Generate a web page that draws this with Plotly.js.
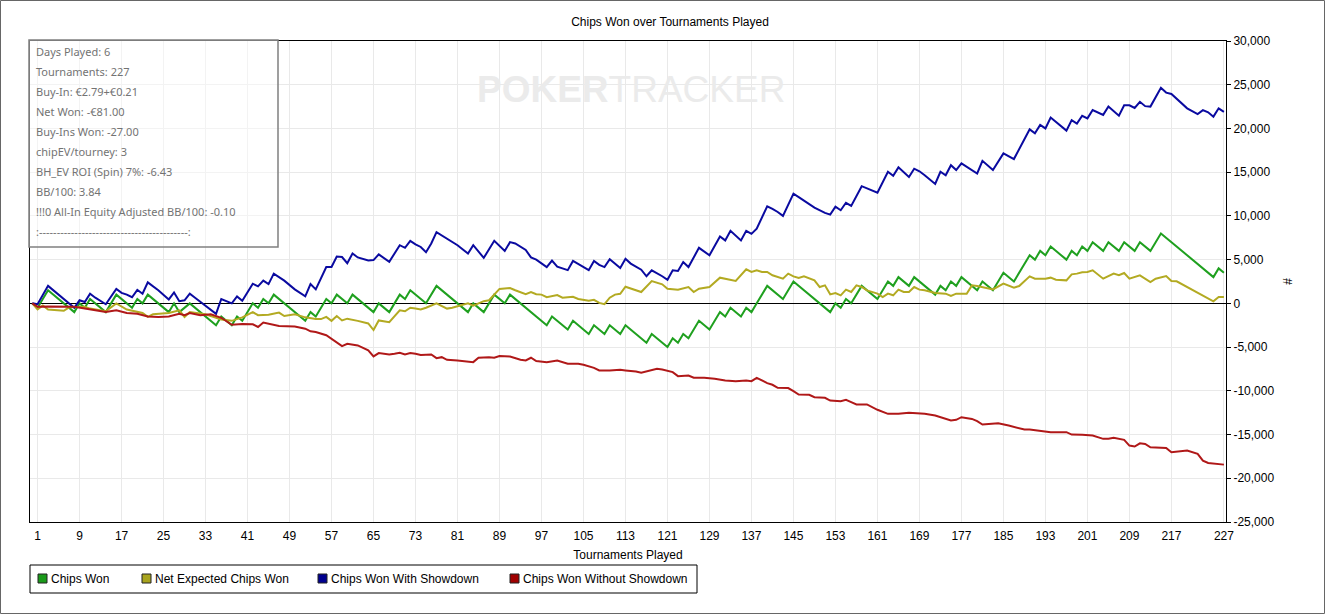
<!DOCTYPE html>
<html>
<head>
<meta charset="utf-8">
<script src="https://cdn.plot.ly/plotly-3.0.1.min.js"></script>
<style>
  html, body { margin: 0; padding: 0; background: #fff; }
  #chart { width: 1325px; height: 614px; }
</style>
</head>
<body>
<div id="chart"></div>
<script>
// Tick labels
var xTickVals = [1, 9, 17, 25, 33, 41, 49, 57, 65, 73, 81, 89, 97, 105, 113, 121, 129, 137, 145, 153, 161, 169, 177, 185, 193, 201, 209, 217, 227];
var yTickVals = [-25000, -20000, -15000, -10000, -5000, 0, 5000, 10000, 15000, 20000, 25000, 30000];
var yTickText = ['-25,000', '-20,000', '-15,000', '-10,000', '-5,000', '0', '5,000', '10,000', '15,000', '20,000', '25,000', '30,000'];

// Chips Won (tournament number / cumulative chips at each turn of the line)
var greenT = [0,1,3,8,9,10,11,14,16,19,20,21,22,26,27,28,30,35,36,38,39,40,42,43,44,45,46,52,53,54,56,57,58,60,61,65,66,68,70,71,
  72,75,77,83,84,86,88,90,91,98,99,102,103,106,107,109,110,112,113,117,118,121,122,123,124,125,127,129,131,132,
  133,135,136,137,138,140,143,145,152,153,154,155,156,158,161,163,164,165,167,168,170,172,173,174,175,176,177,180,181,183,
  185,187,190,191,192,193,194,197,198,199,200,201,202,204,205,207,208,210,211,213,215,225,226,227];
var greenY = [0,-500,1500,-1000,0,-500,500,-1000,1000,-500,500,0,1000,-1000,0,-1000,0,-2500,-1500,-2500,
  -1500,-2000,0,-500,500,0,1000,-2000,-1000,-1500,500,0,1000,0,1000,-1000,0,-1000,1000,500,
  1500,0,2000,-1000,0,-1000,1000,0,1000,-2500,-1500,-3000,-2000,-3500,-2500,-3500,-2500,-3500,-2500,-4500,
  -3500,-5000,-4000,-4500,-3500,-4000,-2000,-3000,-1000,-1500,-500,-1500,-500,-1000,0,2000,500,2500,-1000,0,
  -500,500,0,2000,500,2500,2000,3000,2000,3000,2000,1000,2000,1500,2500,2000,3000,1500,2500,1500,
  3500,2500,5500,5000,6000,5500,6500,5000,6000,5500,6500,6000,7000,6000,7000,6000,7000,6000,7000,6000,
  8000,3000,4000,3500];

// Net Expected Chips Won
var yellowT = [0,1,2,3,6,7,10,11,14,16,18,19,21,22,23,26,28,29,30,33,36,38,40,42,43,45,47,48,50,52,
  54,55,56,57,58,59,60,62,64,65,66,68,70,71,72,73,74,75,77,79,80,83,84,86,87,89,91,92,94,95,
  96,97,98,100,101,102,103,104,106,107,108,109,110,111,112,113,114,115,116,118,120,121,123,125,126,127,129,131,132,134,
  136,137,138,139,140,141,143,144,145,146,147,149,150,151,152,153,154,155,156,157,158,159,161,162,163,164,165,166,167,168,
  169,170,172,174,175,176,178,179,180,183,185,187,188,190,191,193,194,195,197,198,199,200,201,202,204,206,207,208,209,211,
  213,214,216,217,218,220,222,223,225,226,227];
var yellowY = [0,-700,-250,-700,-850,-450,-400,-600,-900,0,-700,-850,-1100,-1550,-1250,-1100,-800,-1550,-1000,-1250,
  -1850,-2000,-1600,-1000,-1350,-1300,-1050,-1450,-1250,-1600,-1800,-1800,-1550,-2000,-1450,-1950,-1750,-2000,-2300,-3050,
  -1950,-2150,-800,-900,-500,-600,-700,-500,0,-600,-500,0,-250,250,350,1650,1750,1500,1050,1300,
  1050,1000,700,950,650,700,750,500,300,400,50,-100,650,1000,1100,1900,1700,1450,1300,2550,
  2180,1680,1570,1870,1300,1680,1870,2940,2820,2560,3890,3590,3780,3590,3590,3210,2820,3400,3090,2900,
  3090,2630,1870,2060,1030,1180,920,1570,1300,2060,1870,1490,1110,720,1110,920,1570,1300,1300,1870,
  1570,1490,1180,1110,840,1110,1110,2060,1980,1600,2250,1790,1980,3090,2820,2820,2940,2710,2630,3320,
  3400,3550,3590,3780,2820,3400,3210,3470,2820,3210,2440,2820,3130,2560,2520,1870,1220,840,230,720,
  720];

// Chips Won With Showdown
var blueT = [0,1,3,8,9,10,11,12,14,16,17,18,19,20,21,22,24,26,27,28,29,30,31,32,35,36,38,39,40,42,
  43,44,45,46,48,50,52,53,54,56,57,58,59,60,61,62,64,65,66,68,70,71,72,73,74,75,76,77,78,79,
  81,83,84,86,88,90,91,92,94,95,96,98,99,100,102,103,106,107,108,109,110,112,113,114,116,117,118,120,121,122,
  123,124,125,127,129,131,132,133,135,136,137,138,140,141,142,143,145,146,148,149,151,152,153,154,155,156,158,159,160,161,
  163,164,165,167,168,169,170,172,173,174,175,176,177,180,181,183,185,187,190,191,192,193,194,197,198,199,200,201,202,204,
  205,207,208,209,210,211,212,213,215,216,217,220,222,223,224,225,226,227];
var blueY = [0,-100,2000,-500,350,150,1100,650,-100,1650,1200,1000,700,1550,1100,2400,1500,450,1250,250,
  350,1100,650,200,-1200,500,0,800,300,2250,1950,2600,2200,3400,2600,1600,800,2200,1600,4150,
  4150,5350,5300,4600,5700,5250,4900,4950,5600,4750,6650,6350,7150,6750,6450,5850,6850,8150,7800,7400,
  6650,5700,6650,5200,7150,6000,7000,6850,6100,5250,5000,4150,4900,4200,3800,4850,3800,4850,4400,4150,
  5050,4050,5100,4550,3850,3100,3780,3100,2700,3780,3700,4730,4150,6350,5500,7650,7200,8300,7200,8300,
  7950,8550,11100,10800,10450,10000,12550,12150,11400,10950,10350,10150,11050,10650,11500,11150,13400,13150,12950,12650,
  15050,14600,15550,14450,15400,15100,14650,13650,15050,14650,15800,15250,16000,14850,16300,15250,17150,16500,19900,19450,
  20400,20000,21250,19750,20950,20550,21450,21150,22100,21550,22500,21450,22650,22650,22350,23050,22550,22500,24650,24100,
  23950,22300,21650,22100,21850,21350,22300,21900];

// Chips Won Without Showdown
var redT = [0,1,3,5,8,10,12,14,16,18,20,22,24,26,28,29,30,32,34,36,38,40,42,43,44,45,47,50,52,53,
  54,56,58,59,60,62,64,65,66,68,69,70,71,72,73,74,76,77,78,79,81,83,84,85,87,88,89,91,93,94,
  95,96,98,100,102,104,105,107,108,110,112,113,115,116,119,120,122,123,125,126,128,130,132,134,136,137,138,140,141,142,
  144,145,146,148,149,151,152,154,155,156,157,159,160,161,163,165,167,168,170,172,174,175,176,177,179,180,181,183,184,186,
  188,189,190,192,194,197,198,200,202,204,205,206,208,209,210,211,212,213,215,216,217,219,220,222,223,224,226,227];
var redY = [0,-400,-350,-350,-400,-600,-800,-1000,-800,-1100,-1200,-1500,-1550,-1500,-1200,-1350,-1100,-1350,-1250,-1650,
  -2450,-2350,-2400,-2700,-2200,-2350,-2600,-2650,-2900,-3200,-3280,-3650,-4430,-4890,-4620,-4810,-5380,-6070,-5690,-5840,
  -5760,-5650,-5840,-5690,-5760,-5900,-5840,-6260,-6150,-6450,-6530,-6600,-6720,-6220,-6150,-6220,-6030,-6070,-6450,-6530,
  -6220,-6600,-6720,-6530,-6910,-6910,-7020,-7370,-7670,-7670,-7600,-7670,-7790,-7940,-7480,-7560,-7860,-8320,-8250,-8510,
  -8510,-8620,-8820,-8900,-8820,-8900,-8510,-9120,-9310,-9650,-9690,-10040,-10420,-10460,-10730,-10800,-11110,-11180,-11030,-11300,
  -11560,-11560,-11870,-12170,-12630,-12630,-12520,-12560,-12630,-12820,-13210,-13400,-13320,-13020,-13210,-13470,-13850,-13700,-13700,-13970,
  -14240,-14430,-14430,-14620,-14730,-14730,-15000,-15030,-15110,-15490,-15490,-15380,-15610,-16260,-16370,-16000,-16070,-16450,-16560,-16530,
  -17020,-16910,-16830,-17210,-17980,-18250,-18360,-18440];

var seriesNames = ['Chips Won', 'Net Expected Chips Won', 'Chips Won With Showdown', 'Chips Won Without Showdown'];
var lineColors = ['#1fa01f', '#b3aa22', '#0a0aa0', '#b01818'];
var boxColors = ['#1a9a1a', '#a8a41e', '#00008f', '#a00000'];

var statLines = ['Days Played: 6', 'Tournaments: 227', 'Buy-In: €2.79+€0.21', 'Net Won: -€81.00',
  'Buy-Ins Won: -27.00', 'chipEV/tourney: 3', 'BH_EV ROI (Spin) 7%: -6.43', 'BB/100: 3.84',
  '!!!0 All-In Equity Adjusted BB/100: -0.10', ':------------------------------------------:'];

// pixel -> paper helpers (plot area is 30..1226 x 41..522)
var plotL = 30, plotR = 1226, plotT = 41, plotB = 522;
function px(p) { return (p - plotL) / (plotR - plotL); }
function py(p) { return (plotB - p) / (plotB - plotT); }

function lineTrace(i, t, v) {
  return {
    x: t, y: v, name: seriesNames[i], type: 'scatter', mode: 'lines',
    line: { color: lineColors[i], width: 2 }, showlegend: false
  };
}

var data = [
  lineTrace(0, greenT, greenY),
  lineTrace(1, yellowT, yellowY),
  lineTrace(2, blueT, blueY),
  lineTrace(3, redT, redY)
];

var shapes = [];
var annotations = [];

// outer frame of the picture
shapes.push({ type: 'rect', xref: 'paper', yref: 'paper', x0: px(0.5), x1: px(1324.5), y0: py(0.5), y1: py(613.5),
  line: { color: '#666', width: 1 } });

// stats box
shapes.push({ type: 'rect', xref: 'paper', yref: 'paper', x0: px(29), x1: px(278), y0: py(40), y1: py(247),
  line: { color: '#808080', width: 1.5 }, fillcolor: 'rgba(255,255,255,0.45)' });
for (var i = 0; i < statLines.length; i++) {
  annotations.push({ xref: 'paper', yref: 'paper', x: px(34), y: py(51 + 20 * i), xanchor: 'left', yanchor: 'middle',
    text: statLines[i], showarrow: false, font: { family: 'Noto Sans', size: 11, color: '#737373' } });
}

// watermark
annotations.push({ xref: 'paper', yref: 'paper', x: px(631), y: py(90), xanchor: 'center', yanchor: 'middle',
  text: '<b>POKER</b>TRACKER', showarrow: false, font: { family: 'Liberation Sans', size: 37, color: '#ebebeb' } });

// legend box
shapes.push({ type: 'rect', xref: 'paper', yref: 'paper', x0: px(30), x1: px(697), y0: py(565), y1: py(593),
  line: { color: '#000', width: 1 }, fillcolor: '#fff' });
var legendTextX = [49, 153, 329, 521];
for (var k = 0; k < seriesNames.length; k++) {
  shapes.push({ type: 'rect', xref: 'paper', yref: 'paper', x0: px(legendTextX[k] - 11), x1: px(legendTextX[k] - 2),
    y0: py(574), y1: py(583), line: { color: '#222', width: 1 }, fillcolor: boxColors[k] });
  annotations.push({ xref: 'paper', yref: 'paper', x: px(legendTextX[k]), y: py(579), xanchor: 'left', yanchor: 'middle',
    text: seriesNames[k], showarrow: false, font: { family: 'Liberation Sans', size: 12, color: '#000' } });
}

var layout = {
  width: 1325, height: 614,
  margin: { l: plotL, r: 1325 - plotR, t: plotT, b: 614 - plotB, pad: 0 },
  paper_bgcolor: '#fff', plot_bgcolor: '#fff',
  font: { family: 'Liberation Sans', size: 12, color: '#000' },
  title: { text: 'Chips Won over Tournaments Played', font: { size: 12, color: '#000' },
    xref: 'container', yref: 'container', x: 670 / 1325, y: 1 - 22 / 614, xanchor: 'center', yanchor: 'middle' },
  showlegend: false,
  xaxis: {
    range: [-0.44, 227.4], tickmode: 'array', tickvals: xTickVals, ticktext: xTickVals.map(String),
    showgrid: true, gridcolor: '#e9e9e9', gridwidth: 1, zeroline: false,
    showline: true, linecolor: '#000', linewidth: 1, mirror: true, ticks: '',
    ticklabelstandoff: 3,
    tickfont: { size: 12 }, automargin: false,
    title: { text: 'Tournaments Played', font: { size: 12 }, standoff: 8 }
  },
  yaxis: {
    range: [-25000, 30000], side: 'right', tickmode: 'array', tickvals: yTickVals, ticktext: yTickText,
    showgrid: true, gridcolor: '#e9e9e9', gridwidth: 1,
    zeroline: true, zerolinecolor: '#000', zerolinewidth: 1,
    showline: true, linecolor: '#000', linewidth: 1, mirror: true,
    ticks: 'outside', ticklen: 4, tickcolor: '#000', tickfont: { size: 12 }, automargin: false,
    title: { text: '#', font: { size: 12 }, standoff: 10 }
  },
  shapes: shapes,
  annotations: annotations
};

Plotly.newPlot('chart', data, layout, { displayModeBar: false, responsive: false });
</script>
</body>
</html>
